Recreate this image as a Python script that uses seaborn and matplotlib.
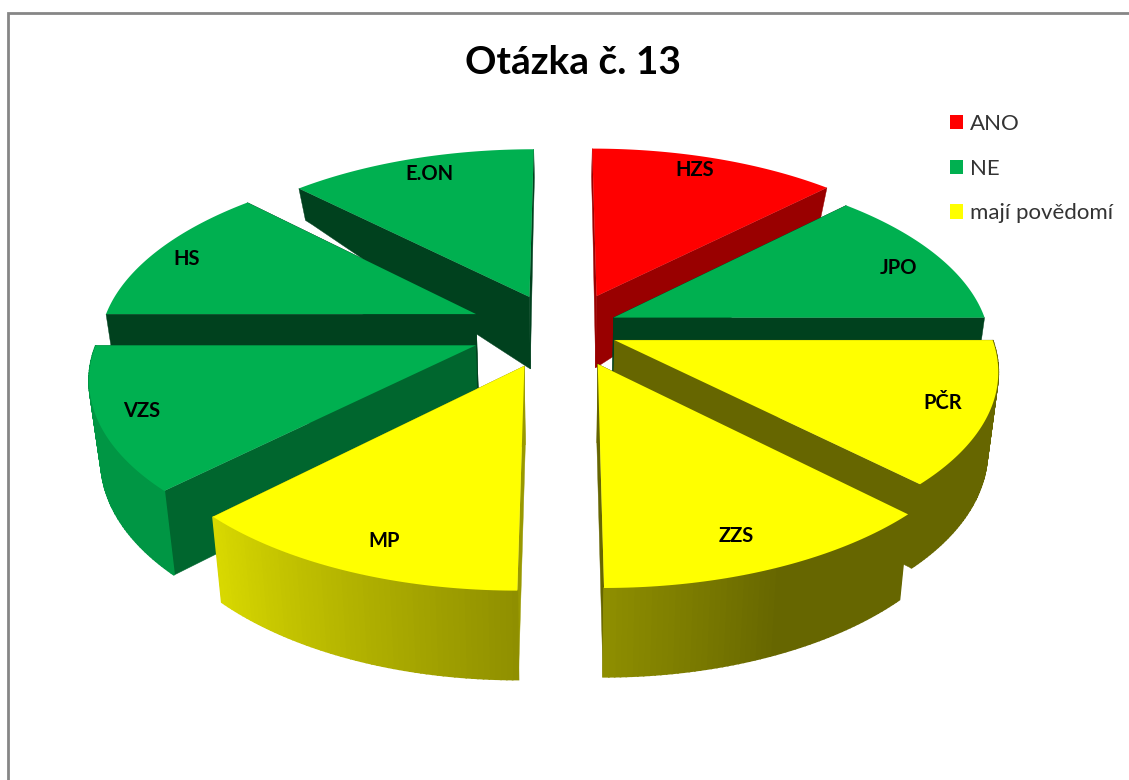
# -*- coding: utf-8 -*-
"""
Otazka c. 13 - exploded 3D pie drawn on a flat axes with a small perspective model.
"""

import numpy as np
import matplotlib
matplotlib.use("Agg")
import matplotlib.pyplot as plt
from matplotlib.patches import Patch
import seaborn as sns

# Data: every organisation counts as one equal slice, clockwise from 12 o'clock
kategorie = ['HZS', 'JPO', 'PČR', 'ZZS', 'MP', 'VZS', 'HS', 'E.ON']
hodnoty = [1, 1, 1, 1, 1, 1, 1, 1]
odpovedi = ['ANO', 'NE', 'mají povědomí', 'mají povědomí', 'mají povědomí', 'NE', 'NE', 'NE']
skupiny = ['ANO', 'NE', 'mají povědomí']

# Slice style: pull-out on the pie plane and darkness of the flat side walls
posun_x = [0.092, 0.136, 0.136, 0.09, -0.1, -0.23, -0.235, -0.092]
posun_y = [-0.195, -0.07, 0.056, 0.185, 0.195, 0.085, -0.09, -0.19]
stin_steny = [0.6, 0.37, 0.4, 0.4, 0.6, 0.58, 0.37, 0.37]
popisek_dx = [-8, 0, 2, -15, 14, -4, -7, 6]
popisek_dy = [-3, 7, -2, -4, -2, 0, 1, 0]

sns.set_theme(style='white')
plt.rcParams['font.family'] = ['Lato', 'DejaVu Sans']

paleta = dict(zip(skupiny, sns.color_palette(['#FF0000', '#00B050', '#FFFF00'])))

# Perspective of the pie plane
CX, CY = 563, 330
SX, SY = 375, 179
PERSP = 0.15
SHRINK = 0.975  # bottom face narrows towards the vanishing point


def promitni(X, Y):
    s = 1 / (1 - PERSP * np.asarray(Y))
    return CX + SX * np.asarray(X) * s, CY + SY * np.asarray(Y) * s


def hloubka(Y):
    # visible thickness of the pie grows towards the viewer
    return np.interp(Y, [-1.2, -0.89, -0.19, 0.1, 0.78, 1.2], [28, 32, 72, 78, 84, 89])


def spodek(X, Y):
    x, y = promitni(X, Y)
    return CX + (x - CX) * SHRINK, y + hloubka(Y)


def stin_oblouku(uhel):
    # light on the rounded wall comes from the lower left
    return np.interp(uhel, [90, 157, 180, 225, 270], [0.4, 0.4, 0.56, 0.85, 0.85])


fig = plt.figure(figsize=(11.29, 7.8), dpi=100)
ax = fig.add_axes([0, 0, 1, 1])
ax.set_xlim(0, 1129)
ax.set_ylim(780, 0)
ax.axis('off')

# chart frame, left and top edge only
ax.plot([8, 8, 1129], [780, 13, 13], color='#868686', lw=2, solid_joinstyle='miter')

hrany = np.cumsum([0] + hodnoty) / np.sum(hodnoty) * 360
stredy = (hrany[:-1] + hrany[1:]) / 2
poradi = np.argsort(-np.cos(np.radians(stredy)), kind='stable')  # back slices first

for i in poradi:
    barva = np.array(paleta[odpovedi[i]])
    stred = np.radians(stredy[i])
    ox, oy = posun_x[i], posun_y[i]
    uhly = np.linspace(hrany[i], hrany[i + 1], 61)
    ax_x = ox + np.sin(np.radians(uhly))
    ax_y = oy - np.cos(np.radians(uhly))

    # flat walls
    for kx, ky in [(ax_x[0], ax_y[0]), (ax_x[-1], ax_y[-1])]:
        tx, ty = np.linspace(ox, kx, 30), np.linspace(oy, ky, 30)
        hx, hy = promitni(tx, ty)
        dx, dy = spodek(tx, ty)
        ax.fill(np.r_[hx, dx[::-1]], np.r_[hy, dy[::-1]],
                color=barva * stin_steny[i], lw=0.3)

    # rounded outer wall, only the part turned to the viewer
    hx, hy = promitni(ax_x, ax_y)
    dx, dy = spodek(ax_x, ax_y)
    for j in range(len(uhly) - 1):
        uhel = (uhly[j] + uhly[j + 1]) / 2
        if 90 <= uhel <= 270:
            ax.fill([hx[j], hx[j + 1], dx[j + 1], dx[j]], [hy[j], hy[j + 1], dy[j + 1], dy[j]],
                    color=barva * stin_oblouku(uhel), lw=1.2)

    # top face
    vx, vy = promitni(ox, oy)
    ax.fill(np.r_[vx, hx], np.r_[vy, hy], color=barva, lw=0)

    lx, ly = promitni(ox + 0.88 * np.sin(stred), oy - 0.88 * np.cos(stred))
    ax.text(lx + popisek_dx[i], ly + popisek_dy[i], kategorie[i], ha='center', va='center',
            fontsize=14.5, fontweight='bold', color='black')

ax.text(573, 62, 'Otázka č. 13', ha='center', va='center', fontsize=28,
        fontweight='bold', color='black')

rucky = [Patch(facecolor=paleta[s], edgecolor='none', label=s) for s in skupiny]
ax.legend(handles=rucky, loc='upper left', bbox_to_anchor=(949.5 / 1129, 1 - 114 / 780),
          frameon=False, fontsize=16, labelcolor='#333333', borderpad=0, borderaxespad=0,
          handlelength=0.6, handleheight=0.6, handletextpad=0.32, labelspacing=1.11)

fig.savefig('out.png', dpi=100)
